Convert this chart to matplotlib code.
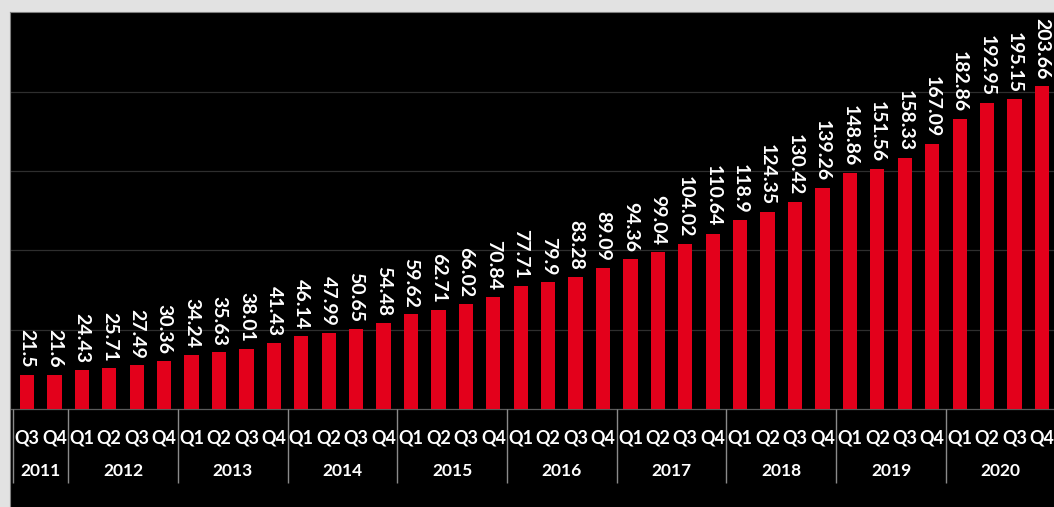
import numpy as np
import matplotlib.pyplot as plt

plt.rcParams['font.family'] = ['Lato', 'DejaVu Sans']

# quarterly values, 2011 Q3 .. 2020 Q4
values = [21.5, 21.6,
          24.43, 25.71, 27.49, 30.36,
          34.24, 35.63, 38.01, 41.43,
          46.14, 47.99, 50.65, 54.48,
          59.62, 62.71, 66.02, 70.84,
          77.71, 79.9, 83.28, 89.09,
          94.36, 99.04, 104.02, 110.64,
          118.9, 124.35, 130.42, 139.26,
          148.86, 151.56, 158.33, 167.09,
          182.86, 192.95, 195.15, 203.66]
quarters = ['Q3', 'Q4'] + ['Q1', 'Q2', 'Q3', 'Q4'] * 9
years = ['2011', '2012', '2013', '2014', '2015', '2016', '2017', '2018', '2019', '2020']
year_counts = [2, 4, 4, 4, 4, 4, 4, 4, 4, 4]

fig = plt.figure(figsize=(10.54, 5.07), dpi=100, facecolor='#e2e2e2')
ax = fig.add_axes([10/1054, 0, 1 - 10/1054, 1 - 12/507])
ax.set_facecolor('black')

x = np.arange(len(values))
# gridlines
for g in [50, 100, 150, 200]:
    ax.axhline(g, color='#2e2e2e', lw=0.9, zorder=0)
ax.axhline(0, color='#5a5a5a', lw=0.9, zorder=1)

ax.bar(x, values, width=0.52, color='#e3001b', zorder=2)
for xi, v in zip(x, values):
    ax.annotate(str(v), (xi, v), xytext=(0, 5), textcoords='offset points',
                rotation=-90, ha='center', va='bottom', color='white',
                fontsize=14, fontweight='bold')

# category table under the bars
for xi, q in zip(x, quarters):
    ax.text(xi, -18.3, q, ha='center', va='center', color='white',
            fontsize=13, fontweight='bold')
start = 0
for yr, n in zip(years, year_counts):
    ax.vlines(start - 0.5, -46.5, 0, color='#8a8a8a', lw=1)
    ax.text(start + (n - 1) / 2, -39, yr, ha='center', va='center',
            color='white', fontsize=12.5, fontweight='bold')
    start += n

ax.set_xlim(-0.62, 37.44)
ax.set_ylim(-61.8, 250.3)
ax.set_xticks([])
ax.set_yticks([])
for s in ['right', 'bottom']:
    ax.spines[s].set_visible(False)
for s in ['top', 'left']:
    ax.spines[s].set_color('#808080')

plt.savefig('out.png', dpi=100, facecolor=fig.get_facecolor())
